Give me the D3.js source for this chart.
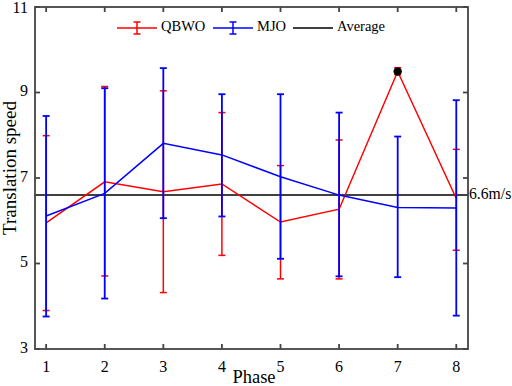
<!DOCTYPE html>
<html><head><meta charset="utf-8">
<script src="https://cdn.jsdelivr.net/npm/d3@7"></script>
<style>body{margin:0;background:#fff}svg{display:block}</style>
</head><body>
<script>
const phases = [1,2,3,4,5,6,7,8];
const qbwoMean  = [5.95,6.91,6.68,6.86,5.97,6.27,9.49,6.52];
const qbwoUpper = [7.99,9.14,9.04,8.53,7.29,7.89,9.58,7.67];
const qbwoLower = [3.90,4.71,4.32,5.19,4.64,4.64,9.42,5.31];
const mjoMean   = [6.11,6.64,7.81,7.54,7.03,6.60,6.31,6.30];
const mjoUpper  = [8.45,9.10,9.57,8.96,8.96,8.53,7.97,8.82];
const mjoLower  = [3.76,4.18,6.06,6.10,5.11,4.70,4.68,3.78];
const average = 6.6;
const yTicks = [3,5,7,9,11];
const legendItems = ["QBWO","MJO","Average"];

const W=512,H=386;
const L=35,R=468,T=7,B=349;
const font="Liberation Serif, Times New Roman, serif";
const axisColor="#444";
const svg=d3.select("body").append("svg").attr("width",W).attr("height",H);
const x=d3.scaleLinear().domain([0.81,8.2]).range([L,R]);
const y=d3.scaleLinear().domain([3,11]).range([B,T]);

// average line
svg.append("line").attr("x1",L).attr("x2",R).attr("y1",y(average)).attr("y2",y(average))
  .attr("stroke","#000").attr("stroke-width",1.5);
svg.append("text").attr("x",R+1).attr("y",y(average)).attr("dominant-baseline","middle")
  .attr("font-family",font).attr("font-size",15.7).text("6.6m/s");

function errBars(up,lo,color,w){
  const g=svg.append("g").attr("stroke",color).attr("stroke-width",w).attr("fill","none");
  phases.forEach((p,i)=>{
    g.append("line").attr("x1",x(p)).attr("x2",x(p)).attr("y1",y(up[i])).attr("y2",y(lo[i]));
    [up[i],lo[i]].forEach(v=>g.append("line").attr("x1",x(p)-3.5).attr("x2",x(p)+3.5).attr("y1",y(v)).attr("y2",y(v)));
  });
}
function seriesLine(mean,color){
  svg.append("path").datum(mean).attr("fill","none").attr("stroke",color).attr("stroke-width",1.5)
    .attr("d",d3.line().x((d,i)=>x(phases[i])).y(d=>y(d)));
}
errBars(qbwoUpper,qbwoLower,"#ff0000",1.5);
seriesLine(qbwoMean,"#ff0000");
errBars(mjoUpper,mjoLower,"#0000ff",1.8);
seriesLine(mjoMean,"#0000ff");
svg.append("circle").attr("cx",x(7)).attr("cy",y(qbwoMean[6])).attr("r",4.2).attr("fill","#000");

// axes frame
const fg=svg.append("g").attr("stroke",axisColor).attr("stroke-width",1.8).attr("fill","none");
fg.append("rect").attr("x",L).attr("y",T).attr("width",R-L).attr("height",B-T);
phases.forEach(p=>{
  fg.append("line").attr("x1",x(p)).attr("x2",x(p)).attr("y1",B).attr("y2",B-5);
  fg.append("line").attr("x1",x(p)).attr("x2",x(p)).attr("y1",T).attr("y2",T+5);
});
yTicks.forEach(v=>{
  fg.append("line").attr("x1",L).attr("x2",L+5).attr("y1",y(v)).attr("y2",y(v));
  fg.append("line").attr("x1",R).attr("x2",R-5).attr("y1",y(v)).attr("y2",y(v));
});
// tick labels
svg.append("g").selectAll("text").data(phases).join("text")
  .attr("x",d=>x(d)).attr("y",372).attr("text-anchor","middle")
  .attr("font-family",font).attr("font-size",16).text(d=>d);
svg.append("g").selectAll("text").data(yTicks).join("text")
  .attr("x",28).attr("y",d=>Math.max(y(d),9)).attr("text-anchor","end").attr("dominant-baseline","middle")
  .attr("font-family",font).attr("font-size",16).text(d=>d);
// axis titles
svg.append("text").attr("x",254).attr("y",383).attr("text-anchor","middle")
  .attr("font-family",font).attr("font-size",18.5).text("Phase");
svg.append("text").attr("transform","translate(16,168) rotate(-90)").attr("text-anchor","middle")
  .attr("font-family",font).attr("font-size",19).text("Translation speed");

// legend
const leg=[{c:"#ff0000",x0:117,bar:true},{c:"#0000ff",x0:213,bar:true},{c:"#000",x0:293,bar:false}];
leg.forEach((d,i)=>{
  const g=svg.append("g").attr("stroke",d.c).attr("stroke-width",1.5);
  g.append("line").attr("x1",d.x0).attr("x2",d.x0+40).attr("y1",28).attr("y2",28);
  if(d.bar){
    const cx=d.x0+20;
    g.append("line").attr("x1",cx).attr("x2",cx).attr("y1",22).attr("y2",34);
    g.append("line").attr("x1",cx-3.5).attr("x2",cx+3.5).attr("y1",22).attr("y2",22);
    g.append("line").attr("x1",cx-3.5).attr("x2",cx+3.5).attr("y1",34).attr("y2",34);
  }
  svg.append("text").attr("x",d.x0+44).attr("y",28).attr("dominant-baseline","middle")
    .attr("font-family",font).attr("font-size",14.5).text(legendItems[i]);
});
</script>
</body></html>
